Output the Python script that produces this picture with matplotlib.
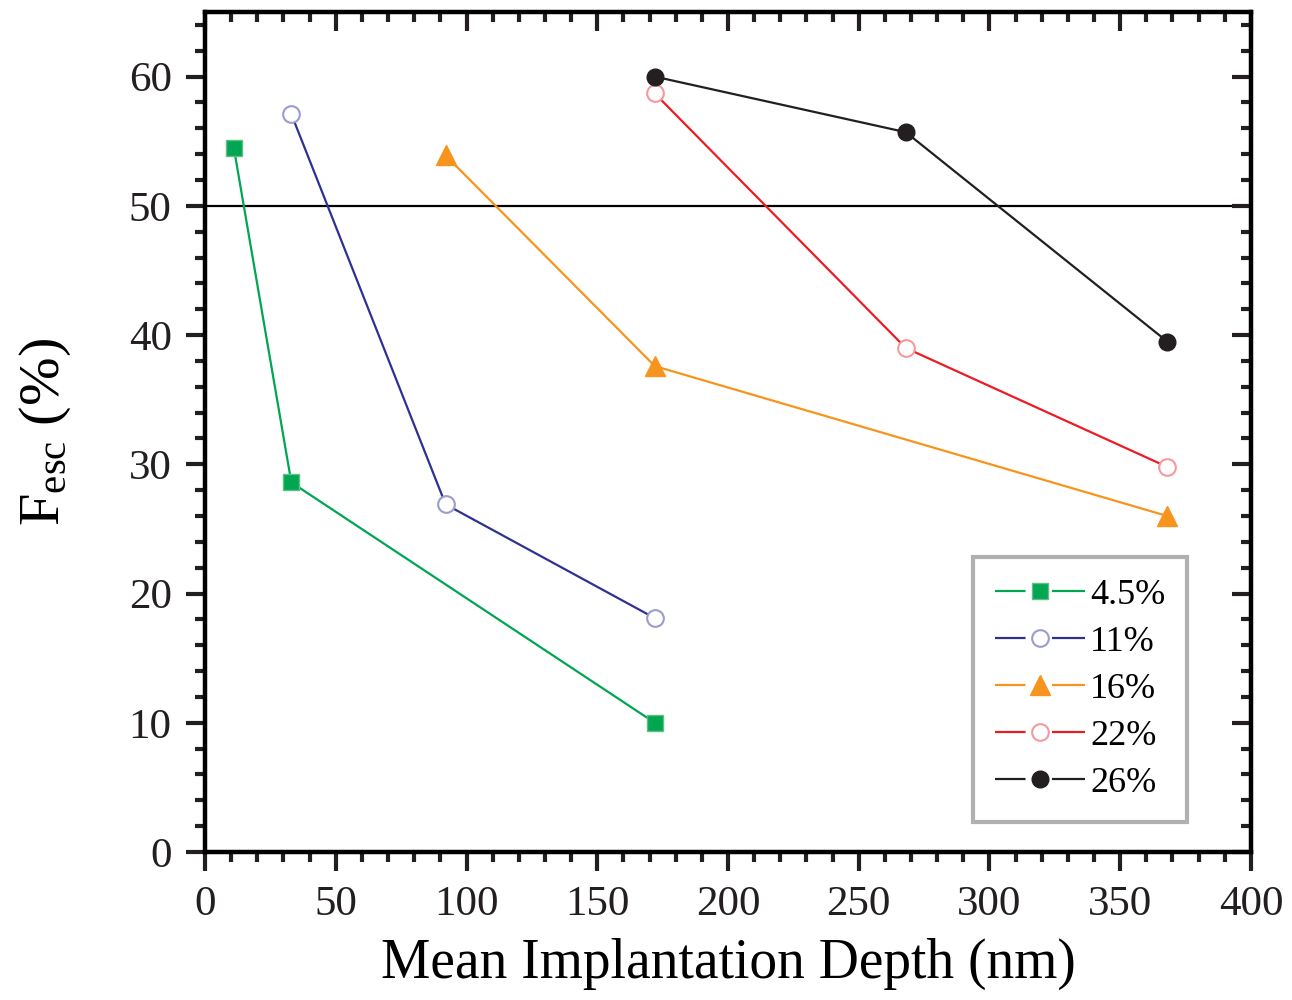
import numpy as np
import matplotlib.pyplot as plt
from matplotlib.lines import Line2D
from matplotlib.ticker import MultipleLocator

plt.rcParams['font.family'] = ['Liberation Serif', 'DejaVu Serif']
plt.rcParams['mathtext.default'] = 'regular'
plt.rcParams['lines.scale_dashes'] = False

# mean implantation depth (nm) and escape fraction (%) per porosity
depth_45 = [11, 33, 172]
fesc_45 = [54.5, 28.6, 10.0]
depth_11 = [33, 92, 172]
fesc_11 = [57.1, 26.9, 18.1]
depth_16 = [92, 172, 368]
fesc_16 = [53.9, 37.6, 26.0]
depth_22 = [172, 268, 368]
fesc_22 = [58.7, 39.0, 29.8]
depth_26 = [172, 268, 368]
fesc_26 = [60.0, 55.7, 39.5]

fig = plt.figure(figsize=(12.92, 10), dpi=100)
ax = fig.add_axes([0.1587, 0.148, 0.8095, 0.840])

ax.axhline(50, color='black', lw=1.6, zorder=1)

styles = [
    (depth_45, fesc_45, '4.5%', dict(marker='s', color='#00a651', ms=12, mfc='#00a651', mec='#5fbf85', mew=1)),
    (depth_11, fesc_11, '11%', dict(marker='o', color='#2e3192', ms=12, mfc='white', mec='#9a9cc9', mew=1.5)),
    (depth_16, fesc_16, '16%', dict(marker='^', color='#f7941d', ms=14, mfc='#f7941d', mec='#f7941d', mew=1)),
    (depth_22, fesc_22, '22%', dict(marker='o', color='#ed1c24', ms=12, mfc='white', mec='#f39a9d', mew=1.5)),
    (depth_26, fesc_26, '26%', dict(marker='o', color='#231f20', ms=12, mfc='#231f20', mec='#231f20', mew=1)),
]

handles, labels = [], []
for x, y, lab, kw in styles:
    ax.plot(x, y, '-', lw=1.6, **kw)
    # legend entry: line broken around the marker
    seg = Line2D([], [], color=kw['color'], lw=1.6, linestyle=(0, (22, 19, 40, 10)))
    mk = Line2D([], [], linestyle='none', **kw)
    handles.append((seg, mk))
    labels.append(lab)

ax.set_xlim(0, 400)
ax.set_ylim(0, 65)


def set_ticks(a, direction):
    a.xaxis.set_major_locator(MultipleLocator(50))
    a.xaxis.set_minor_locator(MultipleLocator(10))
    a.yaxis.set_major_locator(MultipleLocator(10))
    a.yaxis.set_minor_locator(MultipleLocator(2))
    a.tick_params(which='both', direction=direction, width=3, colors='#231f20')
    a.tick_params(which='major', length=14)
    a.tick_params(which='minor', length=7)


for s in ax.spines.values():
    s.set_linewidth(3)
set_ticks(ax, 'out')
ax.tick_params(which='major', labelsize=31, pad=10)

# inward ticks on the top and right edges
top = ax.twiny()
right = ax.twinx()
top.set_xlim(ax.get_xlim())
right.set_ylim(ax.get_ylim())
for a in (top, right):
    set_ticks(a, 'in')
    a.tick_params(which='both', labeltop=False, labelright=False,
                  labelbottom=False, labelleft=False)
    for s in a.spines.values():
        s.set_linewidth(3)
top.tick_params(which='both', bottom=False, left=False, right=False)
right.tick_params(which='both', bottom=False, left=False, top=False)

ax.set_xlabel('Mean Implantation Depth (nm)', fontsize=40, labelpad=10)
ax.set_ylabel(r'F$_{esc}$ (%)', fontsize=42, labelpad=40)

leg = right.legend(handles, labels, loc='lower right', bbox_to_anchor=(0.939, 0.036),
                   fontsize=26, frameon=True, fancybox=False, handlelength=2.5,
                   handletextpad=0.15, labelspacing=0.38, borderpad=0.6,
                   borderaxespad=0, framealpha=1)
leg.get_frame().set_edgecolor('#b0b0b0')
leg.get_frame().set_linewidth(3)

fig.savefig('out.png', dpi=100)
